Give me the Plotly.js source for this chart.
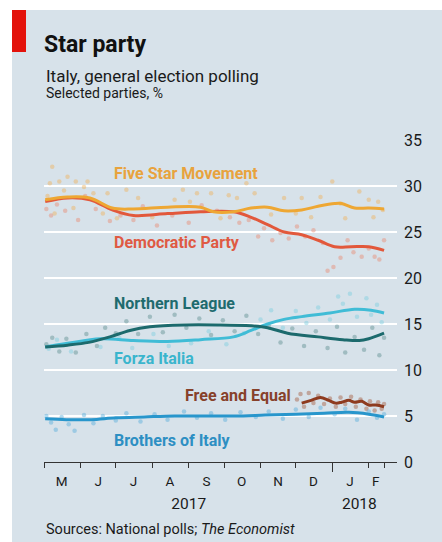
<!DOCTYPE html>
<html>
<head>
<meta charset="utf-8">
<script src="https://cdn.plot.ly/plotly-3.0.1.min.js"></script>
<style>
  html, body { margin: 0; padding: 0; background: #ffffff; }
  #chart { width: 442px; height: 542px; }
</style>
</head>
<body>
<div id="chart"></div>
<script>
// ---------------- DATA ----------------
// Smoothed poll averages (%)
const fiveStarDates = ['2017-05-02','2017-05-21','2017-06-09','2017-06-28','2017-07-16','2017-08-14','2017-09-11','2017-09-22','2017-10-09','2017-10-24','2017-11-07','2017-11-21','2017-12-06','2017-12-20','2018-01-03','2018-01-09','2018-01-20','2018-02-01','2018-02-14'];
const fiveStarValues = [28.5,28.8,28.7,27.6,27.5,27.7,27.7,27.2,27.2,27.6,27.7,27.3,27.4,27.8,28.1,28.1,27.6,27.6,27.5];

const demDates = ['2017-05-02','2017-05-21','2017-06-09','2017-06-28','2017-07-16','2017-08-14','2017-09-11','2017-10-09','2017-10-24','2017-11-07','2017-11-21','2017-12-06','2017-12-20','2018-01-03','2018-01-17','2018-02-01','2018-02-14'];
const demValues = [28.3,28.7,28.5,27.4,26.8,27.0,27.2,27.2,26.6,25.8,25.0,24.7,24.1,23.4,23.4,23.4,23.0];

const leagueDates = ['2017-05-02','2017-05-21','2017-06-08','2017-06-26','2017-07-13','2017-07-30','2017-08-28','2017-09-26','2017-10-24','2017-11-07','2017-11-24','2017-12-20','2018-01-10','2018-01-24','2018-02-01','2018-02-14'];
const leagueValues = [12.5,12.7,13.0,13.6,14.3,14.7,14.9,14.9,14.8,14.6,14.0,13.6,13.3,13.2,13.4,14.0];

const forzaDates = ['2017-05-02','2017-05-21','2017-06-18','2017-07-16','2017-08-14','2017-09-11','2017-10-09','2017-10-24','2017-11-07','2017-11-21','2017-12-06','2017-12-30','2018-01-20','2018-02-03','2018-02-14'];
const forzaValues = [12.5,12.9,13.4,13.2,13.1,13.3,13.6,14.3,15.0,15.5,15.8,16.2,16.6,16.5,16.2];

const freeEqualDates = ['2017-12-06','2017-12-14','2017-12-22','2017-12-29','2018-01-04','2018-01-09','2018-01-15','2018-01-20','2018-01-26','2018-02-01','2018-02-07','2018-02-14'];
const freeEqualValues = [6.4,6.7,7.0,6.7,6.4,6.5,6.7,6.5,6.6,6.2,6.2,6.0];

const brothersDates = ['2017-05-02','2017-05-20','2017-06-10','2017-07-01','2017-07-25','2017-08-20','2017-09-15','2017-10-10','2017-11-05','2017-12-01','2017-12-25','2018-01-15','2018-02-01','2018-02-14'];
const brothersValues = [4.7,4.6,4.6,4.8,4.9,5.0,5.0,5.0,5.1,5.2,5.3,5.4,5.2,4.9];

// Individual polls (%)
const fiveStarPollDates = ['2017-05-04','2017-05-06','2017-05-08','2017-05-10','2017-05-14','2017-05-18','2017-05-21','2017-05-26','2017-05-28','2017-06-04','2017-06-07','2017-06-12','2017-06-20','2017-06-24','2017-07-02','2017-07-10','2017-07-20','2017-08-01','2017-08-20','2017-08-27','2017-09-02','2017-09-08','2017-09-20','2017-09-28','2017-10-05','2017-10-12','2017-10-20','2017-10-27','2017-11-10','2017-11-21','2017-12-01','2017-12-06','2017-12-14','2017-12-22','2018-01-01','2018-01-08','2018-01-12','2018-01-24','2018-02-01','2018-02-05','2018-02-09','2018-02-13'];
const fiveStarPollValues = [28.9,30.3,32.1,27.0,30.5,29.5,31.0,27.6,30.5,29.9,30.5,29.2,27.0,29.2,26.5,29.6,28.7,26.6,28.5,29.6,28.3,29.2,29.2,26.5,29.0,28.7,30.3,29.2,26.9,28.7,27.0,28.7,26.6,28.8,30.5,28.1,26.5,29.4,28.5,26.6,28.3,27.4];

const demPollDates = ['2017-05-03','2017-05-07','2017-05-12','2017-05-19','2017-05-30','2017-06-05','2017-06-14','2017-06-26','2017-07-05','2017-07-16','2017-07-24','2017-08-05','2017-08-18','2017-09-01','2017-09-12','2017-09-25','2017-10-06','2017-10-14','2017-10-22','2017-10-30','2017-11-04','2017-11-11','2017-11-18','2017-11-25','2017-12-02','2017-12-09','2017-12-16','2017-12-24','2017-12-28','2018-01-02','2018-01-08','2018-01-14','2018-01-19','2018-01-26','2018-02-01','2018-02-06','2018-02-10','2018-02-14'];
const demPollValues = [27.5,26.8,28.0,27.3,26.3,28.9,27.5,26.2,26.8,26.3,27.8,25.7,26.8,26.0,27.9,27.3,26.6,26.0,26.3,24.5,25.4,24.1,24.9,24.3,25.6,24.5,25.2,23.8,20.8,21.2,22.2,24.1,22.8,22.3,23.2,22.3,22.0,24.1];

const leaguePollDates = ['2017-05-03','2017-05-08','2017-05-14','2017-05-20','2017-05-28','2017-06-06','2017-06-15','2017-06-22','2017-07-01','2017-07-10','2017-07-20','2017-07-30','2017-08-10','2017-08-20','2017-08-30','2017-09-10','2017-09-20','2017-09-30','2017-10-10','2017-10-20','2017-10-30','2017-11-08','2017-11-18','2017-11-28','2017-12-08','2017-12-18','2017-12-28','2018-01-05','2018-01-12','2018-01-20','2018-01-28','2018-02-04','2018-02-10','2018-02-14'];
const leaguePollValues = [12.8,13.5,12.0,13.4,11.9,13.9,12.6,14.6,14.0,15.3,13.9,15.8,14.1,16.0,14.6,15.6,13.8,15.4,14.2,15.9,13.9,14.8,13.0,14.5,12.6,14.2,12.4,14.7,11.9,13.6,12.2,14.6,11.6,13.5];

const forzaPollDates = ['2017-05-05','2017-05-12','2017-05-24','2017-06-03','2017-06-18','2017-07-04','2017-07-15','2017-08-02','2017-08-15','2017-09-03','2017-09-18','2017-10-03','2017-10-18','2017-11-01','2017-11-10','2017-11-20','2017-12-01','2017-12-10','2017-12-20','2017-12-30','2018-01-06','2018-01-10','2018-01-16','2018-01-22','2018-01-30','2018-02-03','2018-02-08','2018-02-12'];
const forzaPollValues = [12.3,13.3,12.0,13.0,12.5,13.5,12.4,13.9,12.6,12.9,14.2,12.8,14.0,15.5,16.5,14.6,16.4,15.1,16.8,15.5,18.0,17.2,18.3,15.8,17.8,16.0,17.1,15.2];

const freeEqualPollDates = ['2017-12-02','2017-12-05','2017-12-08','2017-12-12','2017-12-16','2017-12-20','2017-12-25','2017-12-30','2018-01-04','2018-01-08','2018-01-12','2018-01-17','2018-01-21','2018-01-25','2018-01-30','2018-02-02','2018-02-06','2018-02-09','2018-02-12','2018-02-14'];
const freeEqualPollValues = [6.8,7.4,6.0,7.5,6.4,7.2,6.3,6.9,6.0,7.0,6.3,7.1,6.0,6.8,5.8,6.6,5.6,6.5,5.8,6.3];

const brothersPollDates = ['2017-05-03','2017-05-07','2017-05-11','2017-05-16','2017-05-22','2017-05-27','2017-06-04','2017-06-12','2017-06-20','2017-07-01','2017-07-10','2017-07-22','2017-08-03','2017-08-14','2017-08-28','2017-09-08','2017-09-20','2017-10-02','2017-10-15','2017-10-28','2017-11-08','2017-11-20','2017-12-01','2017-12-12','2017-12-22','2018-01-03','2018-01-12','2018-01-22','2018-02-01','2018-02-08','2018-02-14'];
const brothersPollValues = [5.0,4.3,3.5,4.9,4.1,3.4,5.1,4.2,5.0,4.5,5.3,4.4,5.2,4.6,5.5,4.8,5.3,4.6,5.4,4.9,5.5,4.7,5.7,4.9,5.9,5.2,5.8,4.6,5.5,4.8,5.2];

// Series names
const seriesNames = ['Five Star Movement','Democratic Party','Northern League','Forza Italia','Free and Equal','Brothers of Italy'];

// Axis ticks and labels
const xRange = ['2017-05-01','2018-02-25'];
const monthTickDates = ['2017-05-01','2017-06-01','2017-07-01','2017-08-01','2017-09-01','2017-10-01','2017-11-01','2017-12-01','2018-01-01','2018-02-01','2018-02-14'];
const yearTickDates = ['2018-01-01'];
const monthLabelDates = ['2017-05-16','2017-06-16','2017-07-16','2017-08-16','2017-09-16','2017-10-16','2017-11-16','2017-12-16','2018-01-16','2018-02-07'];
const monthLabels = ['M','J','J','A','S','O','N','D','J','F'];
const yearLabelDates = ['2017-09-01','2018-01-24'];
const yearLabels = ['2017','2018'];
const yTicks = [0,5,10,15,20,25,30,35];

// ---------------- STYLE ----------------
const FONT = 'Roboto, "Noto Sans", sans-serif';
const BG = '#d7e2ea';
const lineColors = ['#eea733','#e2583b','#1c6a6d','#40bcd6','#8e3b1f','#2896cc'];
const dotColors  = ['#f0b25a','#e98a70','#5d8f91','#7ccfe0','#a55a3e','#56aedb'];
const labelColors = ['#e8a33d','#df5a43','#1f6b6e','#3ab5cd','#87412a','#2d8fc3'];

const lineSets = [
  [fiveStarDates, fiveStarValues],
  [demDates, demValues],
  [leagueDates, leagueValues],
  [forzaDates, forzaValues],
  [freeEqualDates, freeEqualValues],
  [brothersDates, brothersValues]
];
const pollSets = [
  [fiveStarPollDates, fiveStarPollValues],
  [demPollDates, demPollValues],
  [leaguePollDates, leaguePollValues],
  [forzaPollDates, forzaPollValues],
  [freeEqualPollDates, freeEqualPollValues],
  [brothersPollDates, brothersPollValues]
];

const traces = [];
pollSets.forEach((s, i) => {
  traces.push({
    type: 'scatter', mode: 'markers', x: s[0], y: s[1],
    name: seriesNames[i] + ' polls', showlegend: false, hoverinfo: 'skip',
    marker: { size: 4.5, color: dotColors[i], opacity: 0.45 },
    xaxis: 'x', yaxis: 'y', cliponaxis: false
  });
});
const lineOrder = [1, 0, 3, 2, 5, 4];
lineOrder.forEach(i => {
  const s = lineSets[i];
  traces.push({
    type: 'scatter', mode: 'lines', x: s[0], y: s[1],
    name: seriesNames[i], showlegend: false, hoverinfo: 'x+y+name',
    line: { color: lineColors[i], width: 3, shape: 'spline', smoothing: 1 },
    xaxis: 'x', yaxis: 'y'
  });
});
// empty carrier traces so the overlaid label axes are drawn
[['x2', monthLabelDates], ['x3', yearTickDates], ['x4', yearLabelDates]].forEach(a => {
  traces.push({
    type: 'scatter', mode: 'markers', x: a[1], y: a[1].map(() => null),
    xaxis: a[0], yaxis: 'y', showlegend: false, hoverinfo: 'skip',
    marker: { size: 0, opacity: 0 }
  });
});

// helper for paper coordinates from pixel positions in a 442x542 frame
const M = { l: 44, r: 45, t: 140, b: 80 };
const PW = 442 - M.l - M.r, PH = 542 - M.t - M.b;
const px = v => (v - M.l) / PW;
const py = v => (542 - M.b - v) / PH;

// series label positions (date, value)
const labelDates = ['2017-06-28','2017-06-28','2017-06-28','2017-06-28','2017-08-27','2017-06-28'];
const labelValues = [31.4, 23.9, 17.25, 11.2, 7.25, 2.35];

const annotations = seriesNames.map((n, i) => ({
  text: '<b>' + n + '</b>', x: labelDates[i], y: labelValues[i], xref: 'x', yref: 'y',
  xanchor: 'left', yanchor: 'middle', showarrow: false,
  font: { family: FONT, size: 16, color: labelColors[i] }
}));
annotations.push(
  { text: 'Italy, general election polling', xref: 'paper', yref: 'paper', x: px(44), y: py(76),
    xanchor: 'left', yanchor: 'middle', showarrow: false, font: { family: FONT, size: 17, color: '#1a1a1a' } },
  { text: 'Selected parties, %', xref: 'paper', yref: 'paper', x: px(44), y: py(93),
    xanchor: 'left', yanchor: 'middle', showarrow: false, font: { family: FONT, size: 14, color: '#1a1a1a' } },
  { text: 'Sources: National polls; <i>The Economist</i>', xref: 'paper', yref: 'paper', x: px(44), y: py(529),
    xanchor: 'left', yanchor: 'middle', showarrow: false, font: { family: FONT, size: 14.5, color: '#1a1a1a' } }
);

const layout = {
  width: 442, height: 542,
  margin: M,
  paper_bgcolor: BG,
  plot_bgcolor: 'rgba(0,0,0,0)',
  showlegend: false,
  title: {
    text: '<b>Star party</b>', xref: 'container', yref: 'container',
    x: 44 / 442, xanchor: 'left', y: 1 - 44 / 542, yanchor: 'middle',
    font: { family: FONT, size: 23, color: '#111111' }
  },
  xaxis: {
    type: 'date', range: xRange, showgrid: false, zeroline: false,
    showline: true, linecolor: '#333333', linewidth: 1,
    tickmode: 'array', tickvals: monthTickDates, ticks: 'outside', ticklen: 5, tickcolor: '#333333', tickwidth: 1,
    showticklabels: false, fixedrange: true
  },
  xaxis2: {
    type: 'date', range: xRange, overlaying: 'x', anchor: 'y', side: 'bottom',
    showgrid: false, zeroline: false, showline: false,
    tickmode: 'array', tickvals: monthLabelDates, ticktext: monthLabels, ticks: '',
    ticklabelstandoff: 9,
    tickfont: { family: FONT, size: 13.5, color: '#1a1a1a' }, fixedrange: true
  },
  xaxis3: {
    type: 'date', range: xRange, overlaying: 'x', anchor: 'y', side: 'bottom',
    showgrid: false, zeroline: false, showline: false,
    tickmode: 'array', tickvals: yearTickDates, ticks: 'outside', ticklen: 9, tickcolor: '#333333', tickwidth: 1.2,
    showticklabels: false, fixedrange: true
  },
  xaxis4: {
    type: 'date', range: xRange, overlaying: 'x', anchor: 'y', side: 'bottom',
    showgrid: false, zeroline: false, showline: false,
    tickmode: 'array', tickvals: yearLabelDates, ticktext: yearLabels, ticks: '',
    ticklabelstandoff: 30,
    tickfont: { family: FONT, size: 15.5, color: '#1a1a1a' }, fixedrange: true
  },
  yaxis: {
    range: [0, 35], side: 'right', tickmode: 'array', tickvals: yTicks,
    showgrid: true, gridcolor: '#ffffff', gridwidth: 1.5, zeroline: false, showline: false,
    ticks: '', ticklabelstandoff: 6,
    tickfont: { family: FONT, size: 16, color: '#1a1a1a' }, fixedrange: true
  },
  shapes: [
    { type: 'rect', xref: 'paper', yref: 'paper', x0: px(0), x1: px(442), y0: py(0), y1: py(10),
      fillcolor: '#ffffff', line: { width: 0 }, layer: 'below' },
    { type: 'rect', xref: 'paper', yref: 'paper', x0: px(0), x1: px(12), y0: py(0), y1: py(542),
      fillcolor: '#ffffff', line: { width: 0 }, layer: 'below' },
    { type: 'rect', xref: 'paper', yref: 'paper', x0: px(12), x1: px(26), y0: py(10), y1: py(52),
      fillcolor: '#e3120b', line: { width: 0 }, layer: 'above' }
  ],
  annotations: annotations
};

Plotly.newPlot('chart', traces, layout, { staticPlot: true, displayModeBar: false });
</script>
</body>
</html>
